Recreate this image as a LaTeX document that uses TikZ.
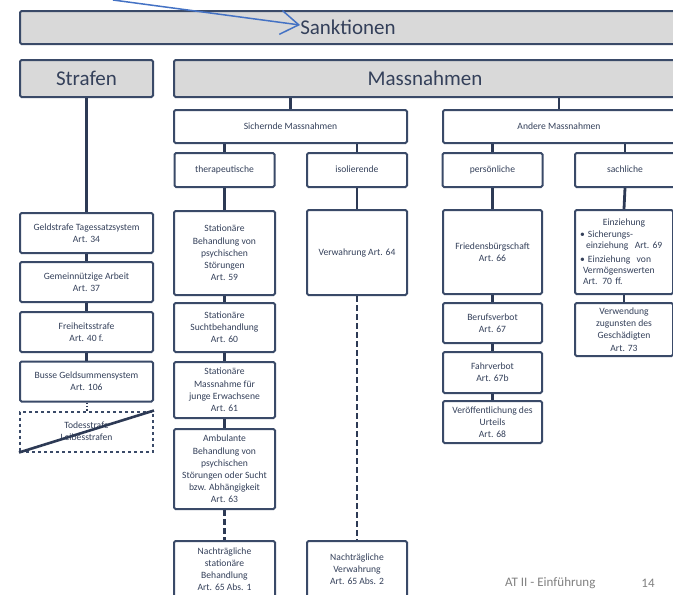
\documentclass[tikz,border=0pt]{standalone}
\usepackage{fontspec}
\setmainfont{Carlito}
\usetikzlibrary{arrows.meta,positioning}
\definecolor{framec}{HTML}{3A4A68}
\definecolor{linkc}{HTML}{2D3A55}
\definecolor{textc}{HTML}{34405A}
\definecolor{headfill}{HTML}{D9D9D9}
\definecolor{penc}{HTML}{4472C4}
\newcommand{\boxfont}{\fontsize{9.6}{12.2}\selectfont}
\newcommand{\titlefont}{\fontsize{21}{24}\selectfont}
\newcommand{\footfont}{\fontsize{13}{15}\selectfont}

\begin{document}
\begin{tikzpicture}[x=1pt,y=-1pt,
            box/.style={draw=framec,line width=2pt,rounded corners=1.5pt,fill=white,
                        font=\boxfont,text=textc,align=center,inner sep=2pt},
            head/.style={box,fill=headfill,font=\titlefont},
            link/.style={draw=linkc,line width=2.8pt},
            dashlink/.style={link,dash pattern=on 6pt off 3pt},
            dotlink/.style={draw=linkc,line width=2pt,dash pattern=on 1.5pt off 1.8pt},
            pen/.style={draw=penc,line width=1.5pt,-{Straight Barb[length=18pt,width=24pt]}}]
 \useasboundingbox (0,0) rectangle (673,595);
 \clip (0,0) rectangle (673,595);

 % Kopfzeile
 \node[head,minimum width=660pt,minimum height=33pt] (sank) at (350,27.5) {};
 \node[font=\titlefont,text=textc,inner sep=0pt] (sanktxt) at (348,27) {Sanktionen};
 \coordinate (penstart) at (113,0);
 \draw[pen] (penstart) -- ([yshift=2pt]sanktxt.west);

 \node[head,minimum width=133pt,minimum height=37pt] (stra) at (86.5,78.5) {Strafen};
 \node[head,minimum width=502pt,minimum height=37pt] (mass) at (425,78.5) {Massnahmen};

 % Strafen
 \begin{scope}[every node/.append style={box,minimum width=133pt,minimum height=40pt}]
   \node (geld) at (86.5,233) {Geldstrafe Tagessatzsystem\\Art. 34};
   \node (gemein) at (86.5,282) {Gemeinnützige Arbeit\\Art. 37};
   \node (frei) at (86.5,332) {Freiheitsstrafe\\Art. 40 f.};
   \node (busse) at (86.5,381.5) {Busse Geldsummensystem\\Art. 106};
   \node[dashed,rounded corners=0pt] (tod) at (86.5,431.5) {Todesstrafe\\Leibesstrafen};
 \end{scope}
 \draw[link] (stra.south) -- (geld.north);
 \draw[link] (geld.south) -- (gemein.north);
 \draw[link] (gemein.south) -- (frei.north);
 \draw[link] (frei.south) -- (busse.north);
 \draw[dotlink] (busse.south) -- (tod.north);
 \draw[link,line width=2.6pt] (tod.south west) -- (tod.north east);

 % Massnahmen
 \node[box,minimum width=233pt,minimum height=33pt] (sich) at (290.5,126.5) {Sichernde Massnahmen};
 \node[box,minimum width=232pt,minimum height=33pt] (andere) at (559,126.5) {Andere Massnahmen};
 \draw[link] (sich.north) -- (sich.north |- mass.south);
 \draw[link] (andere.north) -- (andere.north |- mass.south);

 \begin{scope}[every node/.append style={box,minimum width=100pt,minimum height=34pt,
                                         text height=7pt,text depth=2pt}]
   \node (thera) at (224.5,170) {therapeutische};
   \node (isol) at (357,170) {isolierende};
   \node (pers) at (492.5,170) {persönliche};
   \node (sach) at (625,170) {sachliche};
 \end{scope}
 \draw[link] (thera.north) -- (thera.north |- sich.south);
 \draw[link] (isol.north) -- (isol.north |- sich.south);
 \draw[link] (pers.north) -- (pers.north |- andere.south);
 \draw[link] (sach.north) -- (sach.north |- andere.south);

 % therapeutische
 \begin{scope}[every node/.append style={box,minimum width=101pt}]
   \node[minimum height=84pt] (stat59) at (224.5,253) {Stationäre\\Behandlung von\\psychischen\\Störungen\\Art. 59};
   \node[minimum height=49pt] (stat60) at (224.5,327.5) {Stationäre\\Suchtbehandlung\\Art. 60};
   \node[minimum height=56pt] (stat61) at (224.5,390) {Stationäre\\Massnahme für\\junge Erwachsene\\Art. 61};
   \node[minimum height=80pt] (amb63) at (224.5,469) {Ambulante\\Behandlung von\\psychischen\\Störungen oder Sucht\\bzw. Abhängigkeit\\Art. 63};
   \node[minimum height=56pt] (nach65a) at (224.5,569) {Nachträgliche\\stationäre\\Behandlung\\Art. 65 Abs. 1};
 \end{scope}
 \draw[link] (thera.south) -- (stat59.north);
 \draw[link] (stat59.south) -- (stat60.north);
 \draw[link] (stat60.south) -- (stat61.north);
 \draw[link] (stat61.south) -- (amb63.north);
 \draw[dashlink] (amb63.south) -- (nach65a.north);

 % isolierende
 \begin{scope}[every node/.append style={box,minimum width=100pt}]
   \node[minimum height=85pt] (verw) at (357,252.5) {Verwahrung Art. 64};
   \node[minimum height=56pt] (nach65b) at (357,569) {Nachträgliche\\Verwahrung\\Art. 65 Abs. 2};
 \end{scope}
 \draw[link] (isol.south) -- (verw.north);
 \draw[dashlink] (verw.south) -- (nach65b.north);

 % persoenliche
 \begin{scope}[every node/.append style={box,minimum width=99pt}]
   \node[minimum height=84pt] (fried) at (492.5,252) {Friedensbürgschaft\\Art. 66};
   \node[minimum height=40pt] (beruf) at (492.5,323) {Berufsverbot\\Art. 67};
   \node[minimum height=41pt] (fahr) at (492.5,372.5) {Fahrverbot\\Art. 67b};
   \node[minimum height=42pt] (veroff) at (492.5,422) {Veröffentlichung des\\Urteils\\Art. 68};
 \end{scope}
 \draw[link] (pers.south) -- (fried.north);
 \draw[link] (fried.south) -- (beruf.north);
 \draw[link] (beruf.south) -- (fahr.north);
 \draw[link] (fahr.south) -- (veroff.north);

 % sachliche
 \node[box,text width=92pt,align=left,inner sep=3pt,minimum height=84pt,
       font=\fontsize{9.6}{11.4}\selectfont] (einz) at (624,252)
   {{\centering Einziehung\par}
    \hspace*{2pt}\textbullet~Sicherungs-\\
    \hspace*{8pt}einziehung~ Art.~69\\[2pt]
    \hspace*{2pt}\textbullet~Einziehung~ von\\
    \hspace*{5pt}Vermögenswerten\\
    \hspace*{5pt}Art. 70 ff.};
 \node[box,minimum width=98pt,minimum height=53pt] (verwend) at (624,329.5) {Verwendung\\zugunsten des\\Geschädigten\\Art. 73};
 \draw[link] (sach.south) -- (einz.north);
 \draw[link] (einz.south) -- (verwend.north);

 % Fusszeile
 \node[font=\footfont,text=gray,anchor=west,inner sep=0pt] (foot) at (505,583) {AT II - Einführung};
 \node[font=\footfont,text=gray,inner sep=0pt] (page) at (648,583) {14};
\end{tikzpicture}
\end{document}
